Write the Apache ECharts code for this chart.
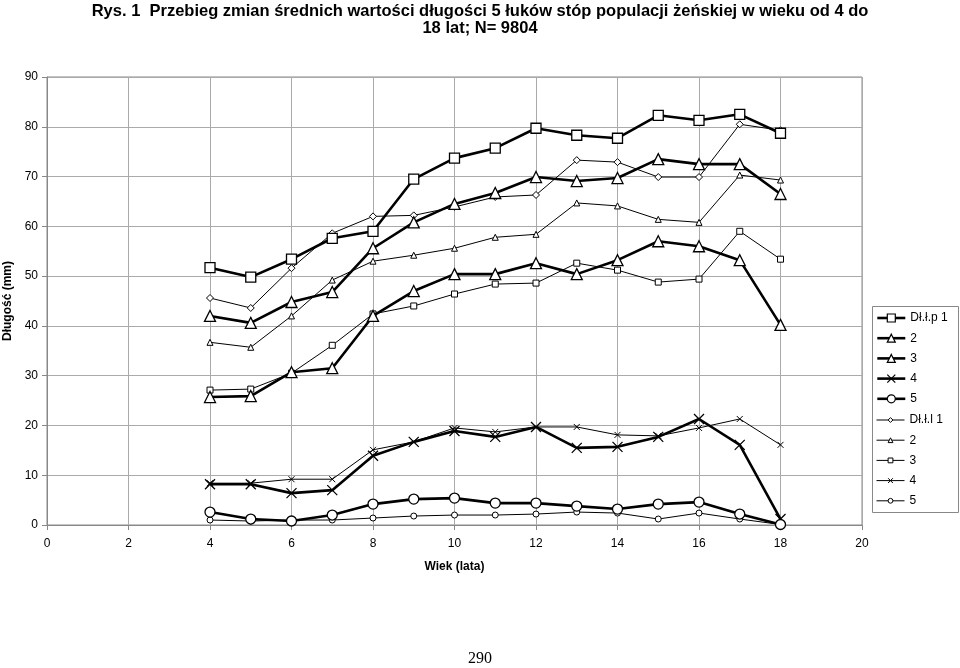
<!DOCTYPE html>
<html><head><meta charset="utf-8">
<script src="https://cdn.jsdelivr.net/npm/echarts@6/dist/echarts.min.js"></script>
<style>html,body{margin:0;padding:0;background:#fff}#c{width:960px;height:668px}</style>
</head><body><div id="c"></div>
<script>
const ages = [4,5,6,7,8,9,10,11,12,13,14,15,16,17,18];
const xTicks = [0,2,4,6,8,10,12,14,16,18,20];
const yTicks = [0,10,20,30,40,50,60,70,80,90];
// prawa stopa (p) – grube linie
const p1 = [51.7,49.8,53.4,57.6,59.0,69.5,73.7,75.7,79.7,78.3,77.7,82.3,81.3,82.5,78.7];
const p2 = [42.0,40.6,44.8,46.8,55.6,60.8,64.5,66.7,69.9,69.1,69.7,73.5,72.5,72.5,66.5];
const p3 = [25.7,25.9,30.7,31.5,42.0,47.0,50.4,50.4,52.6,50.4,53.2,57.0,56.0,53.2,40.2];
const p4 = [8.2,8.2,6.4,7.0,13.9,16.7,18.9,17.7,19.7,15.5,15.7,17.7,21.3,16.1,1.2];
const p5 = [2.6,1.2,0.8,2.0,4.2,5.2,5.4,4.4,4.4,3.8,3.2,4.2,4.6,2.2,0.1];
// lewa stopa (l) – cienkie linie
const l1 = [45.6,43.6,51.6,58.6,62.0,62.2,63.9,65.9,66.3,73.3,72.9,69.9,69.9,80.5,79.3];
const l2 = [36.7,35.7,42.0,49.2,53.0,54.2,55.6,57.8,58.4,64.7,64.1,61.4,60.8,70.3,69.3];
const l3 = [27.1,27.3,30.5,36.1,42.4,44.0,46.4,48.4,48.6,52.6,51.2,48.8,49.4,59.0,53.4];
const l4 = [8.4,8.4,9.2,9.2,15.1,16.7,19.5,18.7,19.7,19.7,18.1,17.9,19.5,21.3,16.1];
const l5 = [1.0,0.8,1.0,1.0,1.4,1.8,2.0,2.0,2.2,2.6,2.4,1.2,2.4,1.2,0.1];
const seriesKeys = ['p1','p2','p3','p4','p5','l1','l2','l3','l4','l5'];
const seriesLabels = ['Dł.ł.p 1','2','3','4','5','Dł.ł.l 1','2','3','4','5'];
const seriesData = [p1,p2,p3,p4,p5,l1,l2,l3,l4,l5];
const X_PATH = 'path://M0,0 L10,10 M10,0 L0,10';
const thickSymbols = ['rect','triangle','triangle',X_PATH,'circle'];
const thinSymbols = ['diamond','triangle','rect',X_PATH,'circle'];

const labelMap = {};
seriesKeys.forEach((k,i)=>labelMap[k]=seriesLabels[i]);

const series = seriesKeys.map((k,i)=>{
  const thick = i < 5;
  const sym = thick ? thickSymbols[i] : thinSymbols[i-5];
  const isX = sym === X_PATH;
  return {
    name: k, type: 'line',
    data: ages.map((a,j)=>[a, seriesData[i][j]]),
    symbol: sym,
    symbolSize: thick ? (isX ? 10 : (sym==='triangle'?11:10)) : (isX ? 6 : (sym==='diamond'?7:6)),
    showAllSymbol: true,
    color:'#fff',
    lineStyle: {color:'#000', width: thick ? 2.6 : 1},
    itemStyle: {color:'#fff', borderColor:'#000', borderWidth: thick ? 1.3 : 1},
    emphasis:{disabled:true},
    z: thick ? 3 : 2,
    animation:false
  };
});

const legendText = {fontFamily:'Liberation Sans, Arial', fontSize:12, color:'#000', lineHeight:14};
const chart = echarts.init(document.getElementById('c'), null, {renderer:'canvas'});
chart.setOption({
  animation:false,
  backgroundColor:'#fff',
  title:{
    text:'Rys. 1  Przebieg zmian średnich wartości długości 5 łuków stóp populacji żeńskiej w wieku od 4 do\n18 lat; N= 9804',
    left:'center', top:-2,
    textStyle:{fontFamily:'Liberation Sans, Arial', fontSize:16.5, fontWeight:'bold', color:'#000', lineHeight:17, align:'center'}
  },
  grid:{left:47, right:98, top:77, bottom:143, show:true, borderColor:'#888', borderWidth:1, outerBoundsMode:'none', containLabel:false},
  legend:[{
    orient:'vertical', left:876, top:311,
    data: seriesKeys.slice(0,5),
    formatter: n => labelMap[n],
    itemWidth:28, itemHeight:10, itemGap:6.2,
    padding:0,
    lineStyle:{width:2.6, color:'#000'},
    itemStyle:{color:'#fff', borderColor:'#000', borderWidth:1.2},
    textStyle:legendText
  },{
    orient:'vertical', left:876, top:413,
    data: seriesKeys.slice(5),
    formatter: n => labelMap[n],
    itemWidth:28, itemHeight:6, itemGap:6.2,
    padding:0,
    lineStyle:{width:1, color:'#000'},
    itemStyle:{color:'#fff', borderColor:'#000', borderWidth:1},
    textStyle:legendText
  }],
  xAxis:{
    type:'value', min:0, max:20, interval:2,
    name:'Wiek (lata)', nameLocation:'middle', nameGap:36,
    nameTextStyle:{fontFamily:'Liberation Sans, Arial', fontSize:12, fontWeight:'bold', color:'#000'},
    axisLine:{show:true, onZero:false, lineStyle:{color:'#888'}},
    axisTick:{show:true, length:5, lineStyle:{color:'#888'}},
    axisLabel:{color:'#000', fontFamily:'Liberation Sans, Arial', fontSize:12, margin:13},
    splitLine:{show:true, lineStyle:{color:'#aaa', width:1}}
  },
  yAxis:{
    type:'value', min:0, max:90, interval:10,
    name:'Długość (mm)', nameLocation:'middle', nameGap:29, nameRotate:90,
    nameTextStyle:{fontFamily:'Liberation Sans, Arial', fontSize:12, fontWeight:'bold', color:'#000'},
    axisLine:{show:true, lineStyle:{color:'#888'}},
    axisTick:{show:true, length:5, lineStyle:{color:'#888'}},
    axisLabel:{color:'#000', fontFamily:'Liberation Sans, Arial', fontSize:12, margin:9},
    splitLine:{show:true, lineStyle:{color:'#aaa', width:1}}
  },
  graphic:[{
    type:'rect', left:872, top:306, z:0,
    shape:{width:86, height:206},
    style:{fill:'#fff', stroke:'#888', lineWidth:1}
  },{
    type:'text', left:'center', top:651,
    style:{text:'290', font:'16px "Liberation Serif", "DejaVu Serif", serif', fill:'#000'}
  }],
  series: series
});
</script>
</body></html>
